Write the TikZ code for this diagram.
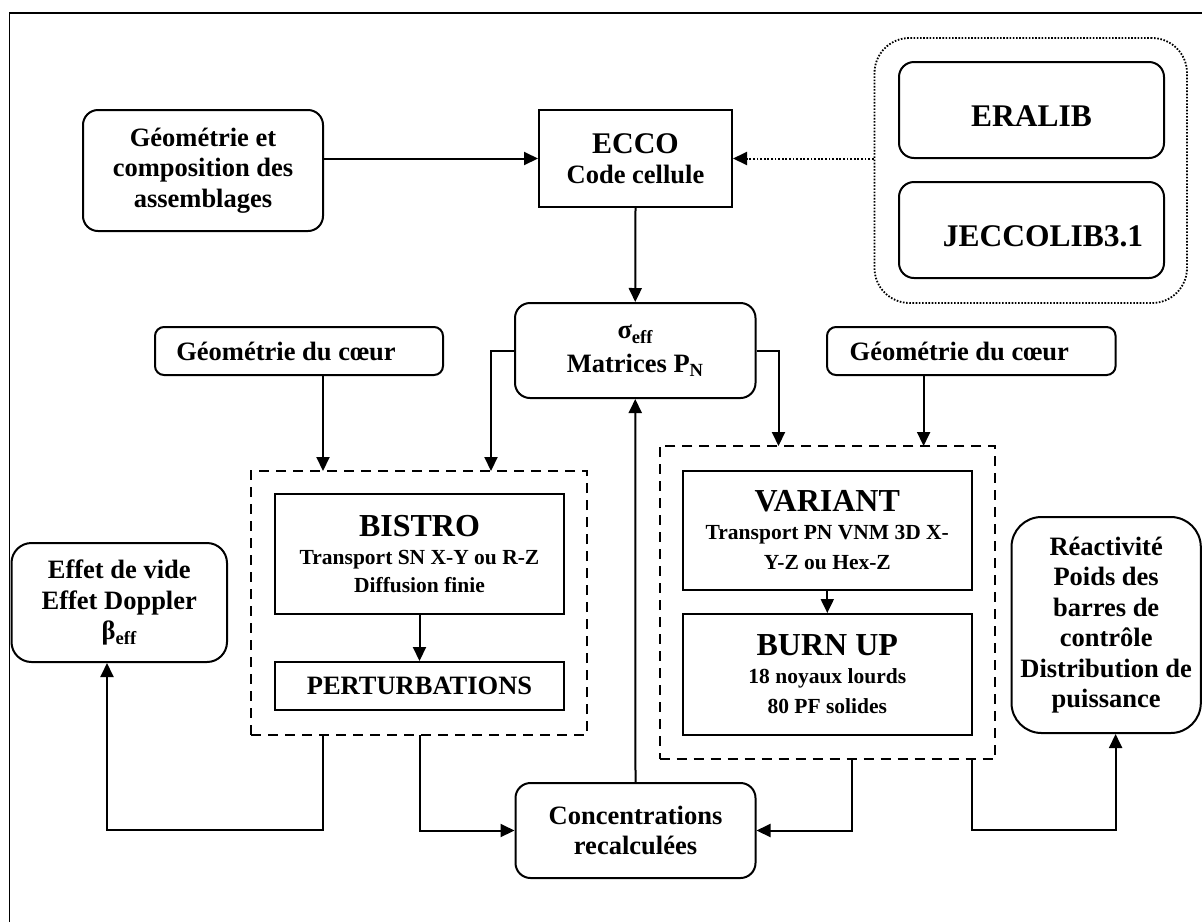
\documentclass[tikz,border=0pt]{standalone}
\usepackage{fontspec}
\setmainfont{Liberation Serif}
\usetikzlibrary{arrows.meta,calc}

\newcommand\fmain{\fontsize{26.5}{30.5}\selectfont}
\newcommand\fhead{\fontsize{32}{34}\selectfont}
\newcommand\fsubt{\fontsize{21.5}{25}\selectfont}
\newcommand\fecco{\fontsize{30}{33}\selectfont}
\newcommand\flib{\fontsize{31.5}{34}\selectfont}

\begin{document}
\begin{tikzpicture}[x=1pt,y=-1pt,
  every node/.style={font=\bfseries\fmain, align=center, inner sep=0pt},
  rbox/.style={draw, line width=2pt, rounded corners=15pt},
  sbox/.style={draw, line width=2pt},
  dbox/.style={draw, line width=2pt, dash pattern=on 10pt off 7pt},
  lbox/.style={draw, line width=1.8pt, dash pattern=on 1.6pt off 1.6pt, rounded corners=35pt},
  arr/.style={line width=2pt, -{Triangle[length=14pt,width=13pt]}},
  dotarr/.style={line width=2pt, dash pattern=on 1.8pt off 1.8pt, -{Triangle[length=14pt,width=13pt]}}
]
\useasboundingbox (0,0) rectangle (1202,922);
\draw[line width=1.5pt] (9.5,922) -- (9.5,13) -- (1202,13);

% top row
\node[rbox, minimum width=240pt, minimum height=121pt] (geoA) at (203,170.5) {G\'eom\'etrie et\\composition des\\assemblages};
\node[sbox, minimum width=193pt, minimum height=97pt] (ecco) at (635.5,158.5) {{\fecco ECCO}\\Code cellule};
\node[lbox, minimum width=312.5pt, minimum height=265pt] (libs) at (1030.75,170.5) {};
\node[rbox, minimum width=265pt, minimum height=96pt] (eralib) at (1031.5,110) {};
\node[font=\bfseries\flib] (eralibT) at (1031.5,116) {ERALIB};
\node[rbox, minimum width=265pt, minimum height=96pt] (jecco) at (1031.5,230) {};
\node[font=\bfseries\flib] (jeccoT) at (1043,236) {JECCOLIB3.1};

% middle row
\node[rbox, minimum width=240.5pt, minimum height=95pt] (sigma) at (635.25,350.5) {σ\textsubscript{eff}\\[3pt]Matrices P\textsubscript{N}};
\node[rbox, rounded corners=9pt, minimum width=288pt, minimum height=48pt] (geoL) at (299,351) {G\'eom\'etrie du c\oe ur\hspace*{26pt}};
\node[rbox, rounded corners=9pt, minimum width=288.6pt, minimum height=48pt] (geoR) at (971.3,351) {G\'eom\'etrie du c\oe ur\hspace*{24pt}};

% dashed groups
\node[dbox, minimum width=336pt, minimum height=264pt] (dashL) at (419,603) {};
\node[sbox, minimum width=289pt, minimum height=120pt] (bistro) at (419.5,554) {\fhead BISTRO\\[-2pt]\fsubt Transport SN X-Y ou R-Z\\[-3pt]\fsubt Diffusion finie};
\node[sbox, minimum width=289pt, minimum height=48pt] (pert) at (419.5,686) {PERTURBATIONS};

\node[dbox, minimum width=335.9pt, minimum height=313pt] (dashR) at (827.45,602.5) {};
\node[sbox, minimum width=288.6pt, minimum height=119pt] (variant) at (827.3,530.5) {\fhead VARIANT\\[-3pt]\fsubt Transport PN VNM 3D X-\\\fsubt Y-Z ou Hex-Z};
\node[sbox, minimum width=288.6pt, minimum height=121pt] (burn) at (827.3,674.5) {\fhead BURN UP\\[-3pt]\fsubt 18 noyaux lourds\\\fsubt 80 PF solides};

% side boxes
\node[rbox, rounded corners=20pt, minimum width=215.5pt, minimum height=119pt] (effet) at (119.25,602.5) {Effet de vide\\Effet Doppler\\β\textsubscript{eff}};
\node[rbox, rounded corners=30pt, minimum width=189.3pt, minimum height=216pt] (reac) at (1106.15,625) {R\'eactivit\'e\\Poids des\\barres de\\contr\^ole\\Distribution de\\puissance};
\node[rbox, minimum width=240pt, minimum height=95pt] (conc) at (635.5,830.5) {Concentrations\\recalcul\'ees};

% coordinates on group borders
\coordinate (inL1) at (491,471);
\coordinate (inL2) at (323,471);
\coordinate (inR1) at (778.5,446);
\coordinate (inR2) at (923.6,446);
\coordinate (outL1) at (323,735);
\coordinate (outL2) at (420,735);
\coordinate (outR1) at (852,759);
\coordinate (outR2) at (971.6,759);
\coordinate (bendL) at (107,830);
\coordinate (bendR) at (1115.6,830);

% connectors
\draw[arr] (ecco.west -| geoA.east) -- (ecco.west);
\draw[dotarr] (ecco.east -| libs.west) -- (ecco.east);
\draw[arr] (ecco.south) -- (sigma.north);
\draw[arr] (sigma.west) -| (inL1);
\draw[arr] (geoL.south -| inL2) -- (inL2);
\draw[arr] (sigma.east) -| (inR1);
\draw[arr] (geoR.south -| inR2) -- (inR2);
\draw[arr] (bistro.south) -- (pert.north);
\draw[arr] (variant.south) -- (burn.north);
\draw[arr] (conc.north) -- (sigma.south);
\draw[arr] (outL1) |- (bendL) -- (effet.south -| bendL);
\draw[arr] (outL2) |- (conc.west);
\draw[arr] (outR1) |- (conc.east);
\draw[arr] (outR2) |- (bendR) -- (reac.south -| bendR);
\end{tikzpicture}
\end{document}
